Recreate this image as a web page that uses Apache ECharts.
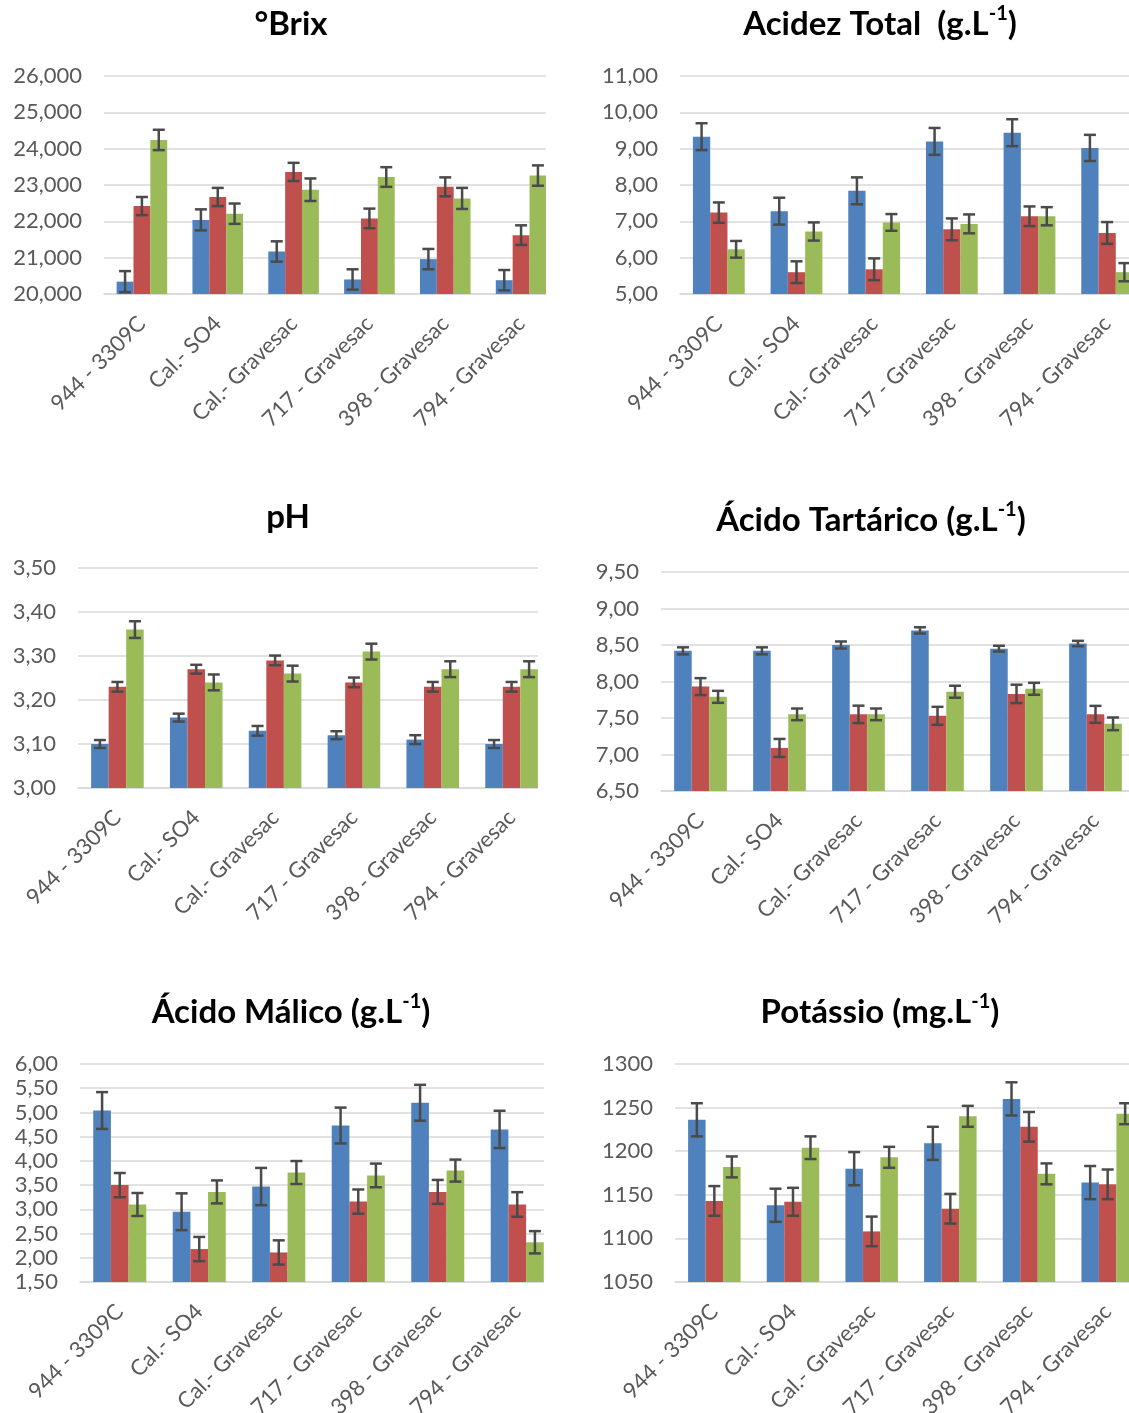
<!DOCTYPE html>
<html>
<head>
<meta charset="utf-8">
<script src="https://cdn.jsdelivr.net/npm/echarts@6/dist/echarts.min.js"></script>
<style>
html,body{margin:0;padding:0;background:#fff;}
body{width:1129px;height:1413px;position:relative;overflow:hidden;}
.outer{position:absolute;overflow:hidden;}
.inner{position:absolute;width:1129px;height:1700px;}
</style>
</head>
<body>
<script>
const categories = ['944 - 3309C', 'Cal.- SO4', 'Cal.- Gravesac', '717 - Gravesac', '398 - Gravesac', '794 - Gravesac'];

// °Brix
const brixBlue = [20.34, 22.04, 21.17, 20.40, 20.96, 20.38];
const brixRed = [22.42, 22.67, 23.36, 22.08, 22.95, 21.62];
const brixGreen = [24.24, 22.21, 22.87, 23.22, 22.63, 23.26];
const brixBlueErr = [0.29, 0.29, 0.28, 0.28, 0.28, 0.28];
const brixRedErr = [0.25, 0.25, 0.25, 0.27, 0.26, 0.27];
const brixGreenErr = [0.28, 0.28, 0.31, 0.27, 0.29, 0.28];

// Acidez Total
const acidBlue = [9.33, 7.28, 7.84, 9.20, 9.44, 9.02];
const acidRed = [7.24, 5.60, 5.68, 6.78, 7.14, 6.68];
const acidGreen = [6.23, 6.72, 6.97, 6.93, 7.14, 5.60];
const acidBlueErr = [0.37, 0.37, 0.37, 0.37, 0.37, 0.36];
const acidRedErr = [0.28, 0.30, 0.30, 0.30, 0.27, 0.30];
const acidGreenErr = [0.23, 0.25, 0.23, 0.26, 0.25, 0.25];

// pH
const phBlue = [3.10, 3.16, 3.13, 3.12, 3.11, 3.10];
const phRed = [3.23, 3.27, 3.29, 3.24, 3.23, 3.23];
const phGreen = [3.36, 3.24, 3.26, 3.31, 3.27, 3.27];
const phBlueErr = [0.009, 0.009, 0.011, 0.009, 0.010, 0.009];
const phRedErr = [0.011, 0.010, 0.011, 0.011, 0.011, 0.011];
const phGreenErr = [0.019, 0.018, 0.018, 0.018, 0.018, 0.018];

// Ácido Tartárico
const tartBlue = [8.42, 8.42, 8.50, 8.70, 8.45, 8.52];
const tartRed = [7.93, 7.09, 7.55, 7.53, 7.83, 7.55];
const tartGreen = [7.79, 7.55, 7.55, 7.86, 7.90, 7.42];
const tartBlueErr = [0.048, 0.048, 0.048, 0.043, 0.040, 0.037];
const tartRedErr = [0.116, 0.123, 0.119, 0.123, 0.126, 0.116];
const tartGreenErr = [0.082, 0.080, 0.080, 0.082, 0.082, 0.087];

// Ácido Málico
const malBlue = [5.04, 2.95, 3.47, 4.73, 5.20, 4.65];
const malRed = [3.50, 2.18, 2.11, 3.16, 3.36, 3.10];
const malGreen = [3.10, 3.36, 3.76, 3.70, 3.80, 2.32];
const malBlueErr = [0.38, 0.38, 0.385, 0.37, 0.37, 0.385];
const malRedErr = [0.25, 0.25, 0.25, 0.25, 0.247, 0.254];
const malGreenErr = [0.237, 0.237, 0.237, 0.244, 0.227, 0.23];

// Potássio
const potBlue = [1236, 1138, 1180, 1209, 1260, 1164];
const potRed = [1143, 1142, 1108, 1134, 1228, 1162];
const potGreen = [1182, 1204, 1193, 1240, 1174, 1243];
const potBlueErr = [19, 19, 19, 19, 19, 19];
const potRedErr = [17, 16, 17, 17, 17, 17];
const potGreenErr = [12, 13, 12, 12, 12, 12];

const colors = ['#4F81BD', '#C0504D', '#9BBB59'];
const FONT = 'Lato, "Open Sans", sans-serif';
const GAP = 1 / 3;

const panels = [
  { title: ['°Brix'], vals: [brixBlue, brixRed, brixGreen], errs: [brixBlueErr, brixRedErr, brixGreenErr],
    min: 20, max: 26, interval: 1, dec: 3,
    grid: { left: 104, top: 76, width: 455, height: 218 }, titleXY: [291, 24],
    box: { left: 0, top: 0, width: 546, height: 470 } },
  { title: ['Acidez Total  (g.L', '-1', ')'], vals: [acidBlue, acidRed, acidGreen], errs: [acidBlueErr, acidRedErr, acidGreenErr],
    min: 5, max: 11, interval: 1, dec: 2,
    grid: { left: 680, top: 76, width: 466, height: 218 }, titleXY: [880, 24],
    box: { left: 560, top: 0, width: 569, height: 470 } },
  { title: ['pH'], vals: [phBlue, phRed, phGreen], errs: [phBlueErr, phRedErr, phGreenErr],
    min: 3.0, max: 3.5, interval: 0.1, dec: 2,
    grid: { left: 78, top: 568, width: 473, height: 220 }, titleXY: [288, 517],
    box: { left: 0, top: 470, width: 538, height: 490 } },
  { title: ['Ácido Tartárico (g.L', '-1', ')'], vals: [tartBlue, tartRed, tartGreen], errs: [tartBlueErr, tartRedErr, tartGreenErr],
    min: 6.5, max: 9.5, interval: 0.5, dec: 2,
    grid: { left: 661, top: 572, width: 474, height: 219 }, titleXY: [871, 520],
    box: { left: 560, top: 470, width: 569, height: 490 } },
  { title: ['Ácido Málico (g.L', '-1', ')'], vals: [malBlue, malRed, malGreen], errs: [malBlueErr, malRedErr, malGreenErr],
    min: 1.5, max: 6.0, interval: 0.5, dec: 2,
    grid: { left: 80, top: 1064, width: 477, height: 218 }, titleXY: [291, 1012],
    box: { left: 0, top: 960, width: 544, height: 453 } },
  { title: ['Potássio (mg.L', '-1', ')'], vals: [potBlue, potRed, potGreen], errs: [potBlueErr, potRedErr, potGreenErr],
    min: 1050, max: 1300, interval: 50, dec: 0,
    grid: { left: 675, top: 1064, width: 472, height: 218 }, titleXY: [880, 1012],
    box: { left: 560, top: 960, width: 569, height: 453 } }
];

function errorRenderer(idx) {
  return function (params, api) {
    const x = api.value(0), y = api.value(1), e = api.value(2);
    const c = api.coord([x, y]);
    const hi = api.coord([x, y + e]);
    const lo = api.coord([x, y - e]);
    const band = api.size([1, 0])[0];
    const bw = band * (1 - GAP) / 3;
    const cx = c[0] + (idx - 1) * bw;
    const cap = 6;
    const st = { stroke: '#4a4a4a', lineWidth: 2.5 };
    return {
      type: 'group',
      children: [
        { type: 'line', shape: { x1: cx, y1: hi[1], x2: cx, y2: lo[1] }, style: st },
        { type: 'line', shape: { x1: cx - cap, y1: hi[1], x2: cx + cap, y2: hi[1] }, style: st },
        { type: 'line', shape: { x1: cx - cap, y1: lo[1], x2: cx + cap, y2: lo[1] }, style: st }
      ]
    };
  };
}

panels.forEach(function (p) {
  const outer = document.createElement('div');
  outer.className = 'outer';
  outer.style.left = p.box.left + 'px';
  outer.style.top = p.box.top + 'px';
  outer.style.width = p.box.width + 'px';
  outer.style.height = p.box.height + 'px';
  const inner = document.createElement('div');
  inner.className = 'inner';
  inner.style.left = (-p.box.left) + 'px';
  inner.style.top = (-p.box.top) + 'px';
  outer.appendChild(inner);
  document.body.appendChild(outer);

  const chart = echarts.init(inner, null, { renderer: 'canvas' });
  let titleText;
  if (p.title.length === 1) titleText = '{t|' + p.title[0] + '}';
  else titleText = '{t|' + p.title[0] + '}{s|' + p.title[1] + '}{t|' + p.title[2] + '}';

  const series = [];
  for (let i = 0; i < 3; i++) {
    series.push({
      type: 'bar', data: p.vals[i], barGap: '0%', barCategoryGap: '33.3%',
      itemStyle: { color: colors[i] }, silent: true, animation: false
    });
  }
  for (let i = 0; i < 3; i++) {
    series.push({
      type: 'custom', renderItem: errorRenderer(i), z: 5, animation: false, silent: true,
      encode: { x: 0, y: 1 },
      data: categories.map(function (c, k) { return [k, p.vals[i][k], p.errs[i][k]]; })
    });
  }

  const grid = Object.assign({ outerBoundsMode: 'none', containLabel: false }, p.grid);

  chart.setOption({
    animation: false,
    graphic: [{
      type: 'text', x: p.titleXY[0], y: p.titleXY[1],
      style: {
        text: titleText, align: 'center', verticalAlign: 'middle',
        rich: {
          t: { fontFamily: FONT, fontWeight: 'bold', fontSize: 33, fill: '#000', color: '#000', lineHeight: 40 },
          s: { fontFamily: FONT, fontWeight: 'bold', fontSize: 20, fill: '#000', color: '#000', verticalAlign: 'top', lineHeight: 40, padding: [0, 0, 14, 0] }
        }
      }
    }],
    grid: grid,
    xAxis: {
      type: 'category', data: categories,
      axisLine: { lineStyle: { color: '#d9d9d9', width: 1.5 } },
      axisTick: { show: false },
      axisLabel: { interval: 0, rotate: 45, margin: 26, fontFamily: FONT, fontSize: 22, color: '#595959' }
    },
    yAxis: {
      type: 'value', min: p.min, max: p.max, interval: p.interval,
      axisLine: { show: false }, axisTick: { show: false },
      splitLine: { lineStyle: { color: '#d9d9d9', width: 1.5 } },
      axisLabel: {
        margin: 22, fontFamily: FONT, fontSize: 22, color: '#595959',
        formatter: function (v) { return v.toFixed(p.dec).replace('.', ','); }
      }
    },
    series: series
  });
});
</script>
</body>
</html>
